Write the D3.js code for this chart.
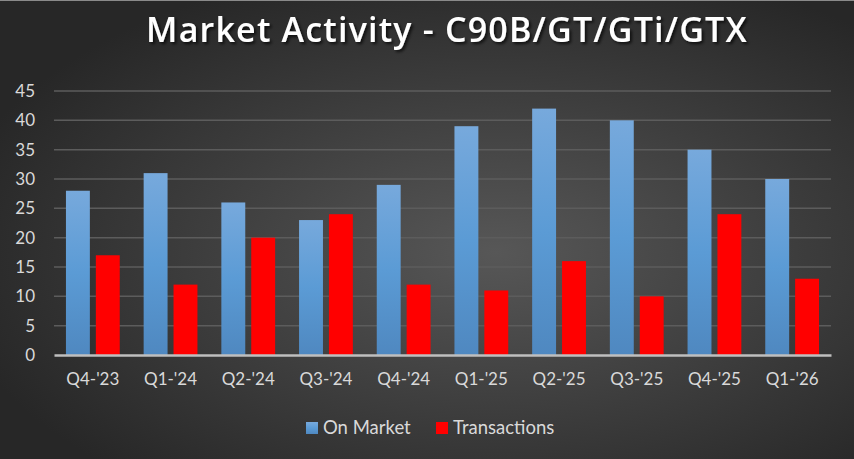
<!DOCTYPE html>
<html>
<head>
<meta charset="utf-8">
<script src="https://cdn.jsdelivr.net/npm/d3@7"></script>
<style>
  body { margin:0; background:#333; }
  svg { display:block; }
</style>
</head>
<body>
<div id="chart"></div>
<script>
// data
var quarters = ["Q4-'23","Q1-'24","Q2-'24","Q3-'24","Q4-'24","Q1-'25","Q2-'25","Q3-'25","Q4-'25","Q1-'26"];
var onMarket = [28, 31, 26, 23, 29, 39, 42, 40, 35, 30];
var transactions = [17, 12, 20, 24, 12, 11, 16, 10, 24, 13];
var yTicks = [0, 5, 10, 15, 20, 25, 30, 35, 40, 45];
var seriesNames = ["On Market", "Transactions"];

var width = 854, height = 459;
var margin = {top: 91, left: 54, right: 23, bottom: 104};

var svg = d3.select("#chart").append("svg")
  .attr("width", width).attr("height", height);

var defs = svg.append("defs");
var bg = defs.append("radialGradient").attr("id","bg")
  .attr("cx","58%").attr("cy","55%").attr("r","65%");
bg.append("stop").attr("offset","0%").attr("stop-color","#575757");
bg.append("stop").attr("offset","100%").attr("stop-color","#272727");

var blue = defs.append("linearGradient").attr("id","blue")
  .attr("x1",0).attr("y1",0).attr("x2",0).attr("y2",1);
blue.append("stop").attr("offset","0%").attr("stop-color","#77a9dc");
blue.append("stop").attr("offset","50%").attr("stop-color","#5b9bd5");
blue.append("stop").attr("offset","100%").attr("stop-color","#4f88c0");

var shadow = defs.append("filter").attr("id","shadow")
  .attr("x","-10%").attr("y","-30%").attr("width","120%").attr("height","160%");
shadow.append("feDropShadow").attr("dx",2).attr("dy",2).attr("stdDeviation",1.5)
  .attr("flood-color","#000").attr("flood-opacity",0.7);

svg.append("rect").attr("width",width).attr("height",height).attr("fill","url(#bg)");
svg.append("line").attr("x1",0).attr("x2",width).attr("y1",0.5).attr("y2",0.5)
  .attr("stroke","#8a8a8a").attr("stroke-width",1);

var x = d3.scaleBand().domain(quarters)
  .range([margin.left, width - margin.right]).paddingInner(0.3077).paddingOuter(0.1538);
var xs = d3.scaleBand().domain(seriesNames).range([0, x.bandwidth()]).paddingInner(0.2);
var y = d3.scaleLinear().domain([0,45]).range([height - margin.bottom, margin.top]);

// gridlines
svg.append("g").selectAll("line").data(yTicks.slice(1)).enter().append("line")
  .attr("x1", margin.left).attr("x2", width - margin.right)
  .attr("y1", function(d){ return y(d); }).attr("y2", function(d){ return y(d); })
  .attr("stroke","#5c5c5c").attr("stroke-width",1.5);

// bars
var groups = svg.append("g").selectAll("g").data(quarters).enter().append("g")
  .attr("transform", function(d){ return "translate(" + x(d) + ",0)"; });
groups.append("rect")
  .attr("x", xs("On Market")).attr("width", xs.bandwidth())
  .attr("y", function(d,i){ return y(onMarket[i]); })
  .attr("height", function(d,i){ return y(0) - y(onMarket[i]); })
  .attr("fill","url(#blue)");
groups.append("rect")
  .attr("x", xs("Transactions")).attr("width", xs.bandwidth())
  .attr("y", function(d,i){ return y(transactions[i]); })
  .attr("height", function(d,i){ return y(0) - y(transactions[i]); })
  .attr("fill","#ff0000");

// x axis
var xAxis = svg.append("g").attr("transform","translate(0," + y(0) + ")")
  .call(d3.axisBottom(x).tickSize(0).tickPadding(18));
xAxis.select(".domain").attr("stroke","#bfbfbf").attr("stroke-width",2.5);
xAxis.selectAll("text").attr("fill","#d9d9d9").attr("font-size","17px")
  .attr("font-family","Lato, 'Open Sans', sans-serif");

// y axis
var yAxis = svg.append("g").attr("transform","translate(" + (margin.left - 19) + ",0)")
  .call(d3.axisLeft(y).tickValues(yTicks).tickSize(0).tickPadding(0));
yAxis.select(".domain").remove();
yAxis.selectAll("text").attr("fill","#d9d9d9").attr("font-size","17px")
  .attr("font-family","Lato, 'Open Sans', sans-serif");

// title
svg.append("text").attr("x", 447).attr("y", 42).attr("text-anchor","middle")
  .attr("fill","#fff").attr("font-size","34px").attr("font-weight","600")
  .attr("font-family","'Open Sans', Lato, sans-serif").attr("letter-spacing","1.2px")
  .attr("filter","url(#shadow)")
  .text("Market Activity - C90B/GT/GTi/GTX");

// legend
var legendColors = ["url(#blue)", "#ff0000"];
var legendX = [306, 436];
var legend = svg.append("g").selectAll("g").data(seriesNames).enter().append("g")
  .attr("transform", function(d,i){ return "translate(" + legendX[i] + ",422)"; });
legend.append("rect").attr("width",12).attr("height",12)
  .attr("fill", function(d,i){ return legendColors[i]; });
legend.append("text").attr("x",17).attr("y",12).text(function(d){ return d; })
  .attr("fill","#d9d9d9").attr("font-size","18.5px")
  .attr("font-family","Lato, 'Open Sans', sans-serif");
</script>
</body>
</html>
